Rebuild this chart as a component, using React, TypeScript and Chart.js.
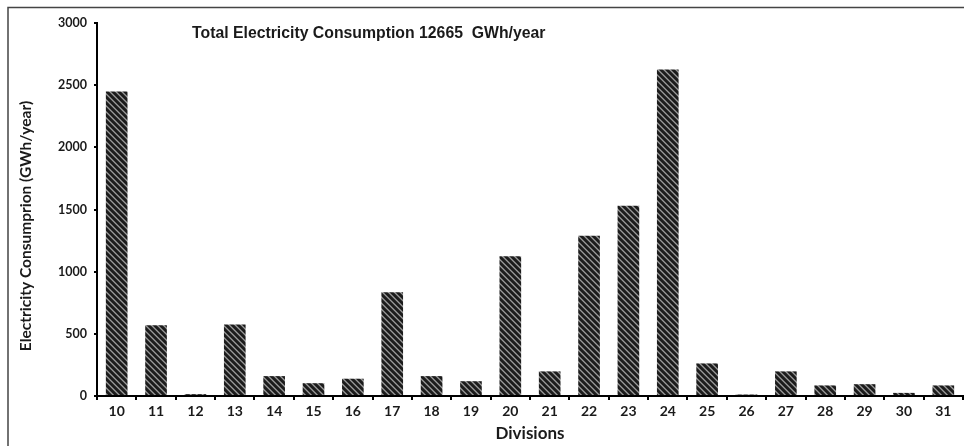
import React, { useEffect, useRef } from "react";
import { Chart, registerables } from "chart.js";

Chart.register(...registerables);

const divisions = ["10", "11", "12", "13", "14", "15", "16", "17", "18", "19", "20", "21", "22", "23", "24", "25", "26", "27", "28", "29", "30", "31"];
const consumption = [2450, 570, 15, 575, 160, 103, 139, 835, 160, 119, 1125, 198, 1289, 1531, 2627, 262, 12, 198, 85, 95, 25, 85];
const yTicks = [0, 500, 1000, 1500, 2000, 2500, 3000];
const chartTitle = "Total Electricity Consumption 12665  GWh/year";
const xTitle = "Divisions";
const yTitle = "Electricity Consumprion (GWh/year)";

function makePattern(ctx: CanvasRenderingContext2D): CanvasPattern | string {
  const size = 6;
  const c = document.createElement("canvas");
  c.width = size;
  c.height = size;
  const pctx = c.getContext("2d");
  if (!pctx) return "#222";
  const img = pctx.createImageData(size, size);
  for (let y = 0; y < size; y++) {
    for (let x = 0; x < size; x++) {
      const d = (((x - y) % size) + size) % size;
      let v = 28;
      if (d === 0) v = 150;
      else if (d === 1) v = 110;
      else if (d === 5) v = 60;
      const i = (y * size + x) * 4;
      img.data[i] = v;
      img.data[i + 1] = v;
      img.data[i + 2] = v;
      img.data[i + 3] = 255;
    }
  }
  pctx.putImageData(img, 0, 0);
  return ctx.createPattern(c, "repeat") || "#222";
}

const decorPlugin = {
  id: "decor",
  beforeDraw(chart: any) {
    const ctx = chart.ctx as CanvasRenderingContext2D;
    ctx.save();
    ctx.strokeStyle = "#444";
    ctx.lineWidth = 1.5;
    ctx.beginPath();
    ctx.moveTo(8, 446);
    ctx.lineTo(8, 7.5);
    ctx.lineTo(964, 7.5);
    ctx.stroke();
    ctx.restore();
  },
  afterDraw(chart: any) {
    const ctx = chart.ctx as CanvasRenderingContext2D;
    ctx.save();
    ctx.fillStyle = "#1a1a1a";
    ctx.font = "bold 15.8px 'Liberation Sans', Arial, sans-serif";
    ctx.textBaseline = "middle";
    ctx.textAlign = "left";
    ctx.fillText(chartTitle, 192, 34);
    ctx.restore();
    ctx.save();
    ctx.fillStyle = "#1a1a1a";
    ctx.font = "bold 15.5px Lato, 'Open Sans', sans-serif";
    ctx.textBaseline = "middle";
    ctx.textAlign = "center";
    ctx.translate(26, 226);
    ctx.rotate(-Math.PI / 2);
    ctx.fillText(yTitle, 0, 0);
    ctx.restore();
  },
};

export default function App() {
  const ref = useRef<HTMLCanvasElement | null>(null);
  useEffect(() => {
    const canvas = ref.current;
    if (!canvas) return;
    const ctx = canvas.getContext("2d");
    if (!ctx) return;
    const pattern = makePattern(ctx);
    const chart = new Chart(ctx, {
      type: "bar",
      data: {
        labels: divisions,
        datasets: [
          {
            data: consumption,
            backgroundColor: pattern as any,
            borderWidth: 0,
            categoryPercentage: 1,
            barPercentage: 0.55,
          },
        ],
      },
      options: {
        animation: false,
        responsive: false,
        events: [],
        layout: { padding: { left: 0, top: 23, right: 1, bottom: 0 } },
        plugins: {
          legend: { display: false },
          title: { display: false },
          tooltip: { enabled: false },
        },
        scales: {
          x: {
            type: "category",
            border: { display: true, color: "#000", width: 2 },
            grid: {
              display: true,
              offset: true,
              drawOnChartArea: false,
              drawTicks: true,
              tickLength: 4,
              color: "#000",
              lineWidth: 2,
            },
            ticks: {
              color: "#1a1a1a",
              padding: 3,
              maxRotation: 0,
              autoSkip: false,
              font: { family: "Lato, 'Open Sans', sans-serif", size: 14, weight: "bold" },
            },
            title: {
              display: true,
              text: xTitle,
              color: "#1a1a1a",
              padding: { top: 0, bottom: 2 },
              font: { family: "Lato, 'Open Sans', sans-serif", size: 17, weight: "bold" },
            },
            afterFit: (s: any) => {
              s.height = 50;
            },
          },
          y: {
            min: 0,
            max: 3000,
            border: { display: true, color: "#000", width: 2 },
            grid: {
              display: true,
              drawOnChartArea: false,
              drawTicks: true,
              tickLength: 3,
              color: "#000",
              lineWidth: 2,
            },
            afterBuildTicks: (s: any) => {
              s.ticks = yTicks.map((v) => ({ value: v }));
            },
            ticks: {
              color: "#1a1a1a",
              padding: 7,
              callback: (v: any) => String(v),
              font: { family: "Lato, 'Open Sans', sans-serif", size: 12.5, weight: "bold" },
            },
            title: { display: false },
            afterFit: (s: any) => {
              s.width = 97;
            },
          },
        },
      } as any,
      plugins: [decorPlugin],
    });
    return () => chart.destroy();
  }, []);
  return (
    <div style={{ position: "fixed", left: 0, top: 0, width: 964, height: 446, background: "#fff" }}>
      <canvas ref={ref} width={964} height={446} style={{ display: "block", width: 964, height: 446 }} />
    </div>
  );
}
